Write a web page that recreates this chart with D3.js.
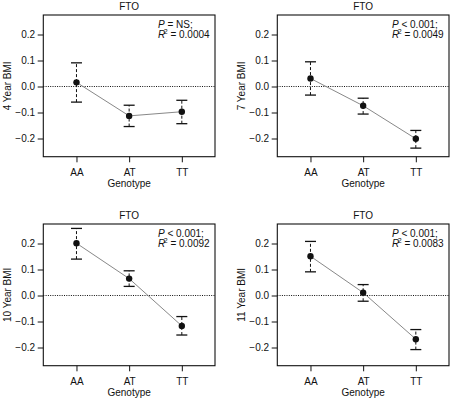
<!DOCTYPE html>
<html>
<head>
<meta charset="utf-8">
<script src="https://cdn.jsdelivr.net/npm/d3@7"></script>
<style>
  body { margin: 0; background: #fff; }
  svg { display: block; }
  text { font-family: "Liberation Sans", Arial, Helvetica, sans-serif; fill: #111; }
</style>
</head>
<body>
<div id="root"></div>
<script>

const genotypes = ["AA", "AT", "TT"]
const y_ticks = [-0.2, -0.1, 0, 0.1, 0.2]

const panel_titles = ["FTO", "FTO", "FTO", "FTO"]
const y_labels = ["4 Year BMI", "7 Year BMI", "10 Year BMI", "11 Year BMI"]
const p_labels = ["= NS;", "< 0.001;", "< 0.001;", "< 0.001;"]
const r2_labels = ["0.0004", "0.0049", "0.0092", "0.0083"]

// mean and 95% CI per genotype
const bmi4_mean  = [0.016, -0.113, -0.097]
const bmi4_lower = [-0.060, -0.154, -0.143]
const bmi4_upper = [0.091, -0.072, -0.053]

const bmi7_mean  = [0.031, -0.074, -0.201]
const bmi7_lower = [-0.033, -0.106, -0.237]
const bmi7_upper = [0.095, -0.045, -0.169]

const bmi10_mean  = [0.201, 0.065, -0.117]
const bmi10_lower = [0.140, 0.035, -0.152]
const bmi10_upper = [0.258, 0.095, -0.081]

const bmi11_mean  = [0.151, 0.011, -0.168]
const bmi11_lower = [0.091, -0.022, -0.208]
const bmi11_upper = [0.208, 0.042, -0.131]

const panels = [
  {mean: bmi4_mean, lower: bmi4_lower, upper: bmi4_upper},
  {mean: bmi7_mean, lower: bmi7_lower, upper: bmi7_upper},
  {mean: bmi10_mean, lower: bmi10_lower, upper: bmi10_upper},
  {mean: bmi11_mean, lower: bmi11_lower, upper: bmi11_upper}
]

const width = 450, height = 399
const col_x = [0, 234], row_y = [0, 209]
const margin = {left: 43.3, top: 15}
const box_w = 171.7, box_h = 141.7

const svg = d3.select("#root").append("svg")
  .attr("width", width)
  .attr("height", height)

const x_scale = d3.scalePoint()
  .domain(genotypes)
  .range([0, box_w])
  .padding(0.63)

const y_scale = d3.scaleLinear()
  .domain([-0.27, 0.275])
  .range([box_h, 0])

panels.forEach((panel, i) => {
  const g = svg.append("g")
    .attr("transform", "translate(" + (col_x[i % 2] + margin.left) + "," + (row_y[Math.floor(i / 2)] + margin.top) + ")")

  // y axis
  const y_axis = g.append("g")
    .call(d3.axisLeft(y_scale).tickValues(y_ticks).tickSize(5.6).tickPadding(2.6).tickFormat(d3.format(".1f")))
  y_axis.select(".domain").remove()
  y_axis.selectAll("text").style("font-size", "10px").style("font-family", null)

  // x axis
  const x_axis = g.append("g")
    .attr("transform", "translate(0," + box_h + ")")
    .call(d3.axisBottom(x_scale).tickSize(5.6))
  x_axis.select(".domain").remove()
  x_axis.selectAll("text")
    .attr("y", 19.3).attr("dy", null)
    .style("font-size", "10px").style("font-family", null)

  g.selectAll(".tick line").attr("stroke", "#111")

  // frame
  g.append("rect")
    .attr("width", box_w)
    .attr("height", box_h)
    .attr("fill", "none")
    .attr("stroke", "#111")
    .attr("stroke-width", 1.1)

  // zero reference
  g.append("line")
    .attr("x1", 0).attr("x2", box_w)
    .attr("y1", y_scale(0)).attr("y2", y_scale(0))
    .attr("stroke", "#111")
    .attr("stroke-width", 1)
    .attr("stroke-dasharray", "1,1.3")

  const rows = genotypes.map((gt, j) => ({gt: gt, mean: panel.mean[j], lower: panel.lower[j], upper: panel.upper[j]}))

  // connecting line
  g.append("path")
    .datum(rows)
    .attr("fill", "none")
    .attr("stroke", "#888")
    .attr("stroke-width", 1)
    .attr("d", d3.line().x(d => x_scale(d.gt)).y(d => y_scale(d.mean)))

  // error bars
  const bars = g.selectAll(".err").data(rows).enter().append("g").attr("class", "err")
  bars.append("line")
    .attr("x1", d => x_scale(d.gt)).attr("x2", d => x_scale(d.gt))
    .attr("y1", d => y_scale(d.lower)).attr("y2", d => y_scale(d.upper))
    .attr("stroke", "#111")
    .attr("stroke-width", 1)
    .attr("stroke-dasharray", "3,2")
  for (const key of ["lower", "upper"]) {
    bars.append("line")
      .attr("x1", d => x_scale(d.gt) - 5.5).attr("x2", d => x_scale(d.gt) + 5.5)
      .attr("y1", d => y_scale(d[key])).attr("y2", d => y_scale(d[key]))
      .attr("stroke", "#111")
      .attr("stroke-width", 1.3)
  }
  bars.append("circle")
    .attr("cx", d => x_scale(d.gt))
    .attr("cy", d => y_scale(d.mean))
    .attr("r", 3.2)
    .attr("fill", "#111")

  // title
  g.append("text")
    .attr("x", box_w / 2)
    .attr("y", -5)
    .attr("text-anchor", "middle")
    .style("font-size", "10px")
    .text(panel_titles[i])

  // axis titles
  g.append("text")
    .attr("x", box_w / 2)
    .attr("y", box_h + 29.8)
    .attr("text-anchor", "middle")
    .style("font-size", "10px")
    .text("Genotype")

  g.append("text")
    .attr("transform", "translate(-32.5," + (box_h / 2) + ") rotate(-90)")
    .attr("text-anchor", "middle")
    .style("font-size", "10px")
    .text(y_labels[i])

  // stats
  const ann_x = box_w - 57
  const p_text = g.append("text")
    .attr("x", ann_x).attr("y", 13.3)
    .style("font-size", "10px")
  p_text.append("tspan").style("font-style", "italic").text("P")
  p_text.append("tspan").text(" " + p_labels[i])

  const r_text = g.append("text")
    .attr("x", ann_x).attr("y", 23)
    .style("font-size", "10px")
  r_text.append("tspan").style("font-style", "italic").text("R")
  r_text.append("tspan").attr("dy", -4).attr("dx", -1.5).style("font-size", "7px").text("2")
  r_text.append("tspan").attr("dy", 4).text(" = " + r2_labels[i])
})

</script>
</body>
</html>
